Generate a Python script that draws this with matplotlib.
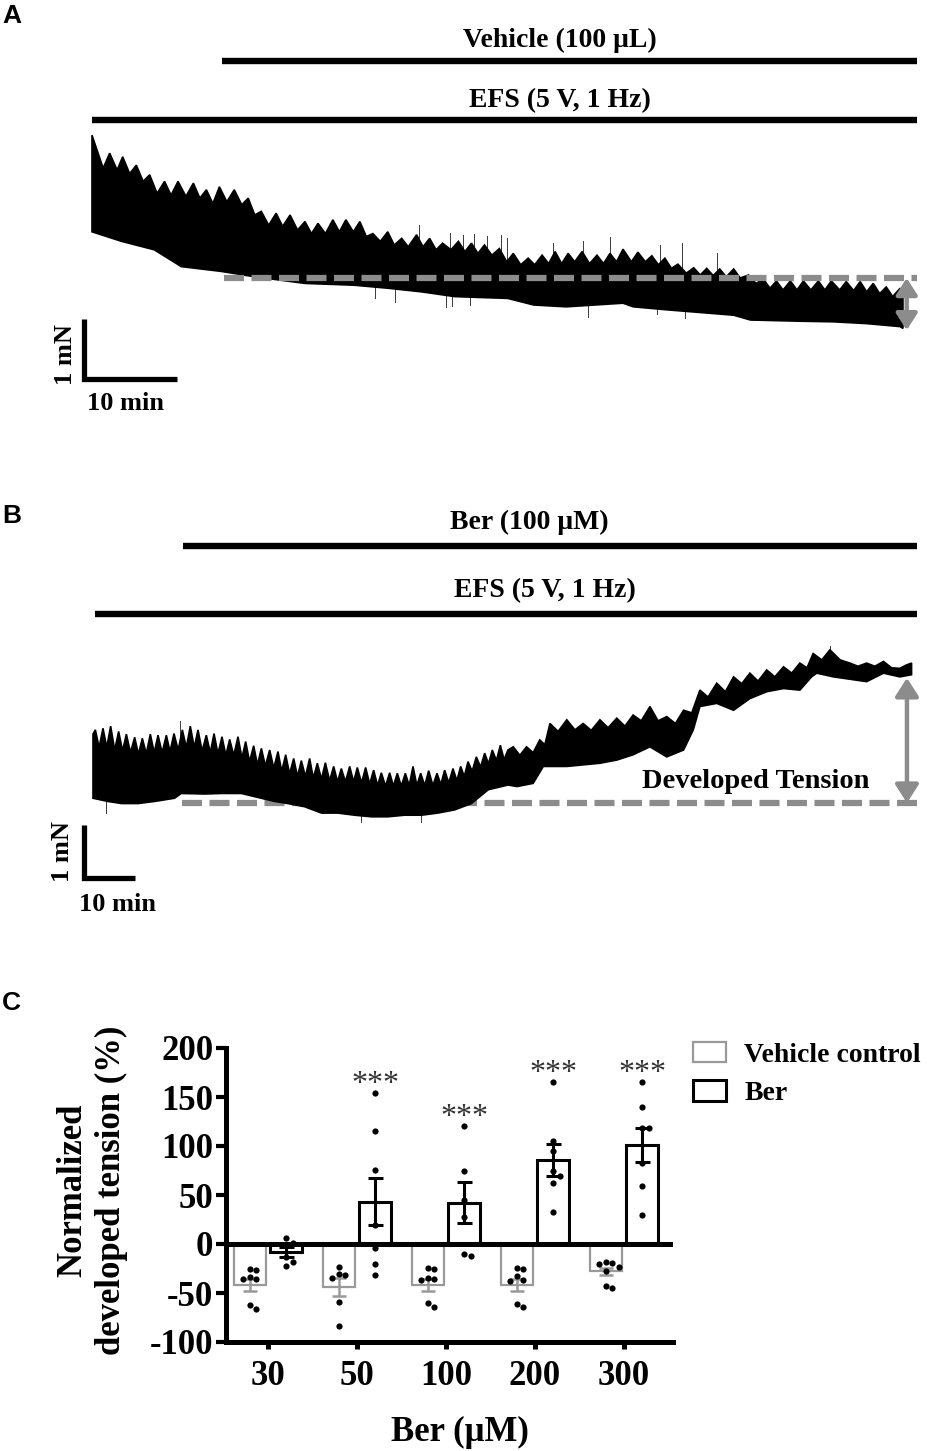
import matplotlib.pyplot as plt
import numpy as np
from matplotlib.patches import Patch

plt.rcParams['font.family'] = ['Liberation Serif', 'DejaVu Serif']
plt.rcParams['font.weight'] = 'bold'

W, H = 928, 1451
GRAY = '#8c8c8c'

# ---------------- panel A: vehicle trace (time in min, tension in mN) ----------------
a_top = [(0, 2.38), (1.2, 1.83), (1.9, 2.08), (2.7, 1.80), (3.3, 2.02), (4.05, 1.74), (4.77, 1.88),
         (5.5, 1.61), (6.2, 1.72), (7.0, 1.41), (7.8, 1.61), (8.5, 1.38), (9.25, 1.61), (10.1, 1.36),
         (10.9, 1.58), (11.6, 1.33), (12.3, 1.47), (13.0, 1.24), (13.7, 1.52), (14.5, 1.27), (15.3, 1.47),
         (16.1, 1.22), (16.8, 1.33), (17.5, 1.05), (18.2, 1.11), (19.0, 0.88), (19.8, 1.08), (20.5, 0.86),
         (21.3, 1.05), (22.1, 0.80), (22.9, 0.94), (23.6, 0.74), (24.3, 0.91), (25.1, 0.74), (25.9, 0.97),
         (26.6, 0.77), (27.3, 0.97), (28.1, 0.77), (28.8, 0.94), (29.5, 0.69), (30.2, 0.74), (31.0, 0.61),
         (31.8, 0.77), (32.5, 0.55), (33.3, 0.66), (34.0, 0.52), (34.9, 0.72), (35.6, 0.52), (36.3, 0.66),
         (37.0, 0.47), (37.7, 0.58), (38.6, 0.47), (39.4, 0.61), (40.1, 0.44), (40.8, 0.58), (41.5, 0.41),
         (42.2, 0.55), (43.0, 0.38), (43.8, 0.49), (44.6, 0.27), (45.3, 0.41), (46.1, 0.22), (46.9, 0.33),
         (47.6, 0.22), (48.4, 0.38), (49.1, 0.24), (49.8, 0.44), (50.5, 0.24), (51.2, 0.41), (51.9, 0.27),
         (52.7, 0.44), (53.5, 0.24), (54.3, 0.38), (55.0, 0.24), (55.7, 0.41), (56.4, 0.27), (57.1, 0.48),
         (58.0, 0.27), (58.7, 0.43), (59.5, 0.27), (60.2, 0.37), (60.9, 0.22), (61.6, 0.33), (62.3, 0.16),
         (63.0, 0.23), (63.9, 0.08), (64.7, 0.17), (65.4, 0.05), (66.1, 0.16), (66.8, 0.04), (67.5, 0.15),
         (68.2, 0.02), (69.0, 0.15), (69.7, 0.0), (70.6, 0.05), (71.4, -0.09), (72.2, -0.02), (72.9, -0.17),
         (73.6, -0.05), (74.3, -0.2), (75.1, -0.05), (75.8, -0.2), (76.5, -0.05), (77.3, -0.2), (78.1, -0.05),
         (78.8, -0.2), (79.5, -0.05), (80.4, -0.2), (81.1, -0.06), (81.9, -0.21), (82.6, -0.06), (83.3, -0.23),
         (84.0, -0.09), (84.7, -0.26), (85.4, -0.15), (86.1, -0.31), (86.9, -0.17), (87.2, -0.28)]
a_bottom = [(0, 0.77), (3.2, 0.61), (6.7, 0.47), (9.6, 0.19), (13.9, 0.11), (17.5, 0.02), (22.9, -0.09),
            (28.2, -0.12), (31.8, -0.17), (35.4, -0.23), (39.0, -0.31), (44.7, -0.34), (47.5, -0.45),
            (51.0, -0.48), (57.1, -0.42), (58.2, -0.48), (61.8, -0.53), (69.0, -0.62), (70.8, -0.70),
            (76.1, -0.72), (79.7, -0.73), (83.3, -0.76), (86.9, -0.81), (87.2, -0.84)]
# artefact spikes: (time, from, to)
a_spikes = [(30.4, 0, -0.33), (32.6, 0, -0.40), (38.1, 0, -0.48), (38.7, 0, -0.47), (40.6, 0, -0.45),
            (53.3, 0, -0.65), (60.8, 0, -0.60), (63.8, 0, -0.67), (35.2, 0, 0.88), (38.5, 0, 0.75),
            (39.9, 0, 0.72), (41.1, 0, 0.74), (42.5, 0, 0.70), (44.0, 0, 0.72), (44.6, 0, 0.66),
            (49.6, 0, 0.59), (52.8, 0, 0.62), (55.7, 0, 0.69), (61.1, 0, 0.55), (63.4, 0, 0.58), (67.2, 0, 0.41)]
a_events = [('Vehicle (100 μL)', 14.0), ('EFS (5 V, 1 Hz)', 0.0)]
a_end = 88.7
a_baseline_start = 14.2

# ---------------- panel B: Ber trace ----------------
b_top = [(0, 1.30), (0.46, 1.38), (1.2, 1.05), (1.96, 1.41), (2.7, 1.05), (3.46, 1.45), (4.25, 1.0),
         (5.03, 1.35), (5.8, 0.98), (6.54, 1.30), (7.35, 0.95), (8.17, 1.24), (8.9, 0.92), (9.67, 1.22),
         (10.45, 0.93), (11.24, 1.30), (12.0, 0.95), (12.75, 1.28), (13.55, 0.95), (14.38, 1.28), (15.1, 0.97),
         (15.88, 1.31), (16.7, 1.0), (17.52, 1.38), (18.3, 1.05), (19.08, 1.45), (19.85, 1.05), (20.59, 1.38),
         (21.4, 0.98), (22.22, 1.28), (23.0, 0.95), (23.73, 1.31), (24.5, 0.93), (25.29, 1.25), (26.05, 0.9),
         (26.8, 1.20), (27.6, 0.9), (28.43, 1.25), (29.2, 0.85), (29.93, 1.16), (30.7, 0.78), (31.5, 1.08),
         (32.25, 0.72), (33.01, 1.03), (33.8, 0.7), (34.64, 1.00), (35.45, 0.66), (36.27, 0.97), (37.0, 0.6),
         (37.78, 0.91), (38.55, 0.55), (39.35, 0.84), (40.1, 0.5), (40.85, 0.80), (41.65, 0.5), (42.48, 0.84),
         (43.2, 0.47), (43.99, 0.75), (44.8, 0.45), (45.56, 0.76), (46.4, 0.42), (47.19, 0.69), (47.95, 0.4),
         (48.69, 0.65), (49.5, 0.4), (50.33, 0.69), (51.1, 0.4), (51.83, 0.67), (52.65, 0.38), (53.46, 0.67),
         (54.25, 0.36), (55.03, 0.62), (55.8, 0.33), (56.54, 0.57), (57.35, 0.32), (58.17, 0.57), (58.9, 0.32),
         (59.67, 0.56), (60.45, 0.32), (61.24, 0.56), (62.0, 0.33), (62.75, 0.69), (63.5, 0.33), (64.25, 0.56),
         (65.05, 0.33), (65.82, 0.61), (66.65, 0.33), (67.45, 0.56), (68.2, 0.35), (68.95, 0.62), (69.75, 0.38),
         (70.59, 0.65), (71.35, 0.42), (72.09, 0.69), (72.8, 0.5), (73.53, 0.78), (74.35, 0.6), (75.16, 0.87),
         (76.0, 0.68), (76.8, 0.94), (77.55, 0.74), (78.3, 1.00), (79.1, 0.8), (79.87, 1.09), (80.6, 0.82),
         (81.37, 1.00), (82.4, 1.06), (83.7, 0.9), (85.0, 1.06), (86.3, 0.95), (87.6, 1.19), (88.6, 1.1),
         (89.6, 1.50), (91.2, 1.35), (92.9, 1.57), (94.5, 1.38), (96.1, 1.50), (97.7, 1.37), (99.4, 1.57),
         (101.0, 1.42), (102.7, 1.60), (104.3, 1.45), (105.9, 1.66), (107.5, 1.55), (109.2, 1.82), (110.8, 1.55),
         (112.5, 1.63), (114.2, 1.5), (115.8, 1.75), (117.4, 1.7), (119.0, 2.13), (120.6, 2.0), (122.3, 2.26),
         (124.0, 2.1), (125.6, 2.38), (127.2, 2.25), (128.8, 2.45), (130.4, 2.3), (132.1, 2.51), (133.7, 2.38),
         (135.4, 2.57), (137.0, 2.45), (138.6, 2.64), (140.0, 2.55), (141.2, 2.82), (142.9, 2.7), (144.5, 2.89),
         (146.5, 2.7), (148.4, 2.64), (150.0, 2.58), (151.7, 2.64), (153.3, 2.58), (155.0, 2.67), (156.6, 2.55),
         (158.2, 2.54), (159.4, 2.6), (160.5, 2.64)]
b_bottom = [(0, 0.09), (2.9, 0.03), (5.6, -0.01), (8.8, -0.01), (12.1, 0.03), (16.0, 0.09), (17.3, 0.18),
            (21.9, 0.17), (25.2, 0.18), (29.1, 0.18), (31.7, 0.12), (35.6, 0.03), (38.2, -0.01), (41.5, -0.07),
            (44.8, -0.19), (48.0, -0.19), (51.3, -0.23), (54.6, -0.26), (57.8, -0.26), (61.1, -0.23),
            (64.4, -0.23), (67.6, -0.19), (70.9, -0.13), (74.2, -0.01), (77.5, 0.25), (81.4, 0.34), (83.1, 0.31),
            (86.3, 0.37), (88.3, 0.69), (92.9, 0.69), (96.1, 0.72), (99.4, 0.75), (102.7, 0.81), (105.9, 0.91),
            (109.2, 1.06), (112.5, 0.87), (115.8, 1.0), (117.7, 1.38), (119.0, 1.82), (122.3, 1.88),
            (125.6, 1.75), (128.8, 1.97), (132.1, 2.10), (135.4, 2.16), (138.6, 2.13), (140.9, 2.38),
            (141.9, 2.45), (145.2, 2.38), (151.7, 2.29), (155.0, 2.45), (158.2, 2.38), (160.5, 2.42)]
b_spikes = [(2.6, 0.5, -0.19), (52.6, 0.2, -0.35), (64.4, 0.2, -0.35), (17.0, 1.0, 1.55), (144.5, 2.6, 2.97)]
b_events = [('Ber (100 μM)', 17.6), ('EFS (5 V, 1 Hz)', 0.4)]
b_end = 161.6
b_baseline_start = 17.5

# ---------------- panel C: normalized developed tension (%) ----------------
conc = ['30', '50', '100', '200', '300']
veh_mean = [-42, -44, -42, -42, -28]
veh_sem = [6, 9.5, 6, 6, 4]
ber_mean = [-8, 43, 42, 86, 101]
ber_sem = [5, 24, 21, 16.5, 17.5]
veh_pts = [[-25, -27, -34, -36, -36, -62, -66],
           [-23, -31, -32, -35, -59, -84],
           [-24, -26, -35, -36, -37, -60, -64],
           [-24, -26, -33, -37, -38, -61, -64],
           [-18, -19, -20, -23, -28, -43, -45]]
ber_pts = [[6, 1, -13, -18, -22],
           [154, 115, 76, 19, -4, -20, -32],
           [120, 74, 45, 28, -10, -12],
           [165, 105, 95, 74, 69, 62, 33],
           [165, 140, 118, 118, 83, 59, 30]]
sig = ['', '***', '***', '***', '***']


def frac_rect(x0, y0, x1, y1):
    return [x0 / W, 1 - y1 / H, (x1 - x0) / W, (y1 - y0) / H]


def trace_axes(fig, box, x0, y0, px_min, px_mn):
    ax = fig.add_axes(frac_rect(*box))
    ax.set_xlim((box[0] - x0) / px_min, (box[2] - x0) / px_min)
    ax.set_ylim((y0 - box[3]) / px_mn, (y0 - box[1]) / px_mn)
    ax.axis('off')
    return ax


def draw_trace(ax, top, bottom, spikes):
    tt, tv = zip(*top)
    bt, bv = zip(*bottom)
    ax.fill(list(tt) + list(bt[::-1]), list(tv) + list(bv[::-1]), color='black', lw=1.2, zorder=2)
    for t, a, b in spikes:
        ax.plot([t, t], [a, b], color='#3a3a3a', lw=0.7, zorder=1)


def scale_bar(ax, t0, v0, tx, ty, bx, by):
    ax.plot([t0, t0, t0 + 10], [v0 + 1, v0, v0], color='k', lw=3.8,
            solid_capstyle='butt', solid_joinstyle='miter')
    ax.text(tx, ty, '1 mN', rotation=90, ha='center', va='center', fontsize=19)
    ax.text(bx, by, '10 min', ha='center', va='center', fontsize=19)


def events(ax, ev, end, ys, text_pos):
    for (label, start), y, (tx, ty) in zip(ev, ys, text_pos):
        ax.plot([start, end], [y, y], color='k', lw=4.6, solid_capstyle='butt')
        ax.text(tx, ty, label, ha='center', va='center', fontsize=20)


def double_arrow(ax, t, v0, v1, ms):
    ax.annotate('', xy=(t, v1), xytext=(t, v0),
                arrowprops=dict(arrowstyle='<|-|>,head_length=0.5,head_width=0.32', color=GRAY,
                                lw=3.2, mutation_scale=ms, shrinkA=0, shrinkB=0), zorder=5)


def swarm(vals, step=0.075, tol=7):
    placed = []
    offs = []
    for v in vals:
        near = [o for pv, o in placed if abs(pv - v) < tol]
        for c in (0, step, -step, 2 * step, -2 * step):
            if c not in near:
                break
        placed.append((v, c))
        offs.append(c)
    return np.array(offs)


fig = plt.figure(figsize=(W / 100, H / 100), dpi=100)

# ---- A ----
axA = trace_axes(fig, (0, 0, W, 450), 92, 278, 9.3, 60)
draw_trace(axA, a_top, a_bottom, a_spikes)
axA.plot([a_baseline_start, a_end], [0, 0], color=GRAY, lw=4.5, dashes=(3.2, 1.2), zorder=3)
double_arrow(axA, 87.6, 0, -0.87, 20)
events(axA, a_events, a_end, [3.617, 2.633], [(50.3, 3.967), (50.3, 2.95)])
scale_bar(axA, -0.81, -1.69, -2.8, -1.27, 3.55, -2.1)

# ---- B ----
axB = trace_axes(fig, (0, 480, W, 940), 93, 803, 5.1, 53)
axB.plot([b_baseline_start, b_end], [0, 0], color=GRAY, lw=4.5, dashes=(3.2, 1.2), zorder=1)
draw_trace(axB, b_top, b_bottom, b_spikes)
double_arrow(axB, 159.6, 0, 2.36, 22)
axB.text(130.0, 0.40, 'Developed Tension', ha='center', va='center', fontsize=20.5)
events(axB, b_events, b_end, [4.849, 3.566], [(85.6, 5.30), (88.6, 4.0)])
scale_bar(axB, -1.86, -1.415, -5.9, -0.92, 4.9, -1.92)

# ---- C ----
axC = fig.add_axes(frac_rect(226, 1048, 673, 1342))
x = np.arange(len(conc))
off, bw = 0.205, 0.355
axC.bar(x - off, veh_mean, width=bw, facecolor='white', edgecolor='#9a9a9a', lw=1.6, zorder=2)
axC.bar(x + off, ber_mean, width=bw, facecolor='white', edgecolor='black', lw=2.2, zorder=2)
axC.errorbar(x - off, veh_mean, yerr=veh_sem, fmt='none', ecolor='#9a9a9a', elinewidth=1.8,
             capsize=4.7, capthick=1.8, zorder=3)
axC.errorbar(x + off, ber_mean, yerr=ber_sem, fmt='none', ecolor='black', elinewidth=2.2,
             capsize=5.4, capthick=2.2, zorder=3)
for i in range(len(conc)):
    axC.scatter(x[i] - off + swarm(veh_pts[i]), veh_pts[i], s=20, c='black', lw=0, zorder=4)
    axC.scatter(x[i] + off + swarm(ber_pts[i]), ber_pts[i], s=20, c='black', lw=0, zorder=4)
    if sig[i]:
        axC.text(x[i] + off, max(ber_pts[i]) + 1, sig[i], ha='center', va='baseline',
                 fontsize=23, fontweight='normal', color='#333333')
axC.axhline(0, color='black', lw=3.6, zorder=3)
axC.set_xlim(-0.472, 4.55)
axC.set_ylim(-100, 200)
axC.set_yticks([-100, -50, 0, 50, 100, 150, 200])
axC.set_yticklabels(['-100', '-50', '0', '50', '100', '150', '200'], fontsize=25)
axC.set_xticks(x)
axC.set_xticklabels(conc, fontsize=25)
for s in ('top', 'right'):
    axC.spines[s].set_visible(False)
for s in ('left', 'bottom'):
    axC.spines[s].set_linewidth(3.6)
axC.tick_params(axis='y', length=7, width=3, pad=2)
axC.tick_params(axis='x', length=5, width=3.6, pad=8)

axC.legend(handles=[Patch(facecolor='white', edgecolor='#9a9a9a', lw=1.6, label='Vehicle control'),
                    Patch(facecolor='white', edgecolor='black', lw=2.2, label='Ber')],
           loc='upper left', bbox_to_anchor=(693 / W, 1 - 1042 / H), bbox_transform=fig.transFigure,
           frameon=False, fontsize=20, handlelength=1.2, handleheight=0.75, handletextpad=0.65,
           labelspacing=0.45, borderpad=0, borderaxespad=0)

fig.text(460 / W, 1 - 1432 / H, 'Ber (μM)', ha='center', va='center', fontsize=25)
fig.text(92 / W, 1 - 1190 / H, 'Normalized\ndeveloped tension (%)', rotation=90, ha='center',
         va='center', multialignment='center', linespacing=1.2, fontsize=25)

# panel letters
for letter, y in (('A', 4), ('B', 504), ('C', 991)):
    fig.text(2 / W, 1 - y / H, letter, ha='left', va='top', fontsize=19,
             family='Liberation Sans', fontweight='bold')

fig.savefig('out.png', dpi=100)
